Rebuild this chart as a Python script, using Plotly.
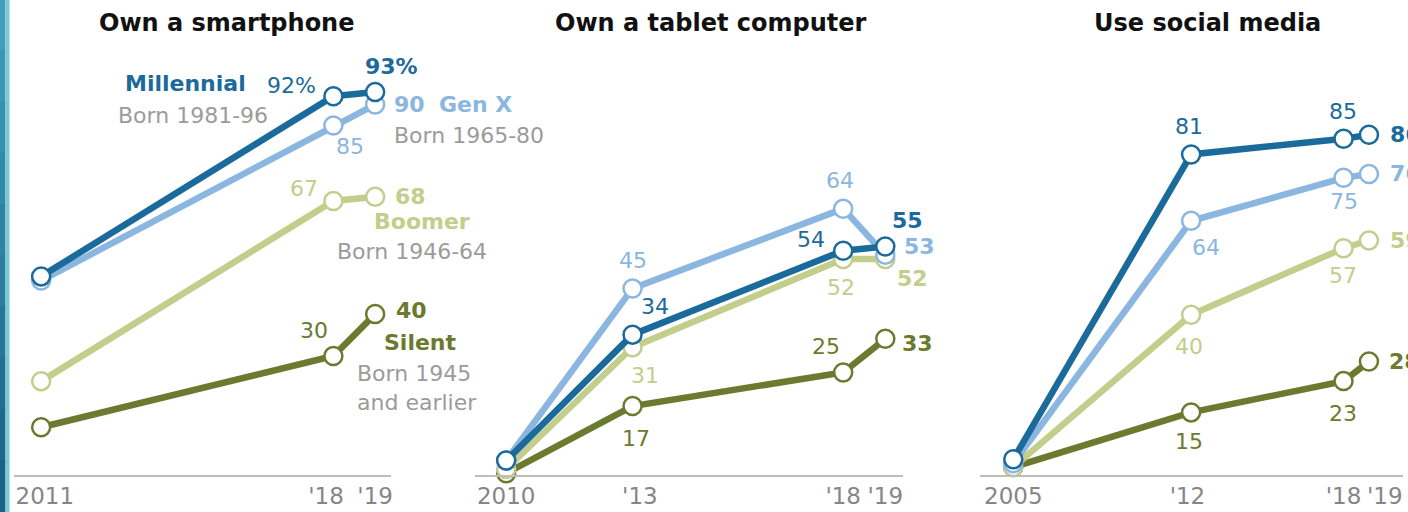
import plotly.graph_objects as go

# ---------------- data ----------------
titles = ["Own a smartphone", "Own a tablet computer", "Use social media"]
generations = ["Millennial", "Gen X", "Boomer", "Silent"]
born = ["Born 1981-96", "Born 1965-80", "Born 1946-64", "Born 1945<br>and earlier"]

years_smart = [2011, 2018, 2019]
smart_mill = [49, 92, 93]
smart_genx = [48, 85, 90]
smart_boom = [24, 67, 68]
smart_sil = [13, 30, 40]

years_tab = [2010, 2013, 2018, 2019]
tab_mill = [4, 34, 54, 55]
tab_genx = [4, 45, 64, 53]
tab_boom = [2, 31, 52, 52]
tab_sil = [1, 17, 25, 33]

years_soc = [2005, 2012, 2018, 2019]
soc_mill = [3, 81, 85, 86]
soc_genx = [2, 64, 75, 76]
soc_boom = [1, 40, 57, 59]
soc_sil = [1, 15, 23, 28]

NB = "\u00a0"
ticks_smart = [NB + "2011", "'18" + NB * 2, "'19"]
ticks_tab = ["2010", NB * 2 + "'13", "'18", "'19"]
ticks_soc = ["2005", "'12" + NB, "'18", ""]
extra_tick_soc = "'19"

# ---------------- styles ----------------
W, H = 1408, 512
MB = 37
colors = ["#1b6a9c", "#8ab6e0", "#c3cd8c", "#6b7a2f"]
GRAY = "#9b9b9b"
TICK = "#868686"
FONT = "DejaVu Sans"
LS = 22

panels = [
    dict(years=years_smart, series=[smart_mill, smart_genx, smart_boom, smart_sil], ticks=ticks_smart,
         xdom=[14 / W, 391 / W], xr=[2010.35, 2019.38], yr=[1.6, 114.96]),
    dict(years=years_tab, series=[tab_mill, tab_genx, tab_boom, tab_sil], ticks=ticks_tab,
         xdom=[475 / W, 903 / W], xr=[2009.26, 2019.42], yr=[0.57, 113.7]),
    dict(years=years_soc, series=[soc_mill, soc_genx, soc_boom, soc_sil], ticks=ticks_soc,
         xdom=[980 / W, 1403 / W], xr=[2003.69, 2020.34], yr=[-1.02, 120.5]),
]

fig = go.Figure()
layout = dict(
    width=W, height=H, margin=dict(l=0, r=0, t=0, b=MB, autoexpand=False),
    paper_bgcolor="white", plot_bgcolor="white", showlegend=False,
    font=dict(family=FONT, size=LS, color=GRAY),
)

for p_i, p in enumerate(panels):
    suffix = "" if p_i == 0 else str(p_i + 1)
    xa, ya = "x" + suffix, "y" + suffix
    # draw silent first, millennial last
    for s_i in [3, 2, 1, 0]:
        fig.add_trace(go.Scatter(
            x=p["years"], y=p["series"][s_i], xaxis=xa, yaxis=ya, mode="lines+markers",
            line=dict(color=colors[s_i], width=6.5),
            marker=dict(size=18, color="white", line=dict(color=colors[s_i], width=2.5)),
            cliponaxis=False, hoverinfo="skip",
        ))
    layout["xaxis" + suffix] = dict(
        domain=p["xdom"], range=p["xr"], anchor=ya, showgrid=False, zeroline=False,
        showline=True, linecolor="#bdbdbd", linewidth=1.5, ticks="",
        tickvals=p["years"], ticktext=p["ticks"], tickangle=0, automargin=False,
        tickfont=dict(family=FONT, size=23, color=TICK), fixedrange=True,
    )
    layout["yaxis" + suffix] = dict(
        domain=[0, 1], range=p["yr"], anchor=xa, visible=False, fixedrange=True, automargin=False,
    )

fig.update_layout(**layout)

# ---------------- value labels ----------------
# (panel, series, point index, xanchor, xshift, yshift, suffix)
label_specs = [
    (0, 0, 1, "right", -15, 11, "%"), (0, 0, 2, "center", 16, 26, "%"),
    (0, 1, 1, "center", 17, -21, ""), (0, 1, 2, "left", 17, 0, ""),
    (0, 2, 1, "right", -13, 12, ""), (0, 2, 2, "left", 18, 0, ""),
    (0, 3, 1, "right", -3, 26, ""), (0, 3, 2, "left", 19, 4, ""),

    (1, 0, 1, "center", 22, 28, ""), (1, 0, 2, "right", -16, 11, ""), (1, 0, 3, "center", 22, 26, ""),
    (1, 1, 1, "center", 0, 28, ""), (1, 1, 2, "center", -3, 28, ""), (1, 1, 3, "left", 17, 8, ""),
    (1, 2, 1, "center", 12, -28, ""), (1, 2, 2, "center", -2, -28, ""), (1, 2, 3, "left", 10, -19, ""),
    (1, 3, 1, "center", 3, -32, ""), (1, 3, 2, "center", -17, 26, ""), (1, 3, 3, "left", 15, -5, ""),

    (2, 0, 1, "center", -2, 28, ""), (2, 0, 2, "center", -1, 27, ""), (2, 0, 3, "left", 19, 0, ""),
    (2, 1, 1, "center", 15, -27, ""), (2, 1, 2, "center", 0, -24, ""), (2, 1, 3, "left", 19, 0, ""),
    (2, 2, 1, "center", -2, -32, ""), (2, 2, 2, "center", -1, -27, ""), (2, 2, 3, "left", 19, 0, ""),
    (2, 3, 1, "center", -2, -29, ""), (2, 3, 2, "center", -1, -32, ""), (2, 3, 3, "left", 18, 0, ""),
]

annotations = []
for (pi, si, idx, xanc, xs, ys, suf) in label_specs:
    p = panels[pi]
    suffix = "" if pi == 0 else str(pi + 1)
    val = p["series"][si][idx]
    last = idx == len(p["years"]) - 1
    txt = f"{val}{suf}"
    if last:
        txt = f"<b>{txt}</b>"
    annotations.append(dict(
        x=p["years"][idx], y=val, xref="x" + suffix, yref="y" + suffix,
        text=txt, showarrow=False, xanchor=xanc, yanchor="middle",
        xshift=xs, yshift=ys, font=dict(family=FONT, size=LS, color=colors[si]),
    ))

# '19 tick label of the social-media panel, nudged right as in the original
annotations.append(dict(
    x=years_soc[-1], y=0, xref="x3", yref="paper", text=extra_tick_soc, showarrow=False,
    xanchor="center", yanchor="middle", xshift=16, yshift=-21,
    font=dict(family=FONT, size=23, color=TICK),
))

# ---------------- generation legend labels (panel 1, anchored to 2019 point) ----------------
gen_specs = [
    # (series, name xanchor, xshift, yshift, born xanchor, xshift, yshift)
    (0, "right", -127, 9, "right", -105, -23),
    (1, "left", 62, 0, "left", 17, -31),
    (2, "left", -3, -25, "left", -40, -55),
    (3, "left", 7, -28, "left", -20, -74),
]
p = panels[0]
for (si, na, nx, ny, ba, bx, by) in gen_specs:
    yv = p["series"][si][-1]
    xv = p["years"][-1]
    annotations.append(dict(
        x=xv, y=yv, xref="x", yref="y", text=f"<b>{generations[si]}</b>", showarrow=False,
        xanchor=na, yanchor="middle", xshift=nx, yshift=ny,
        font=dict(family=FONT, size=LS, color=colors[si]),
    ))
    annotations.append(dict(
        x=xv, y=yv, xref="x", yref="y", text=born[si], showarrow=False, align="left",
        xanchor=ba, yanchor="middle", xshift=bx, yshift=by,
        font=dict(family=FONT, size=LS, color=GRAY),
    ))

# ---------------- titles ----------------
title_x = [226, 710, 1207]
for t, tx in zip(titles, title_x):
    annotations.append(dict(
        x=tx / W, y=(H - MB - 23) / (H - MB), xref="paper", yref="paper", text=f"<b>{t}</b>",
        showarrow=False, xanchor="center", yanchor="middle",
        font=dict(family=FONT, size=24, color="#111111"),
    ))

fig.update_layout(annotations=annotations)

# ---------------- left teal strip ----------------
shapes = []
bands = 10
c_top = (63, 160, 183)
c_bot = (26, 99, 131)
y_lo = -MB / (H - MB)
for b in range(bands):
    f = b / (bands - 1)
    c = tuple(int(c_top[k] + (c_bot[k] - c_top[k]) * f) for k in range(3))
    y1 = 1 - (1 - y_lo) * b / bands
    y0 = 1 - (1 - y_lo) * (b + 1) / bands
    shapes.append(dict(type="rect", xref="paper", yref="paper", x0=0, x1=5.5 / W, y0=y0 - 0.002, y1=y1 + 0.002,
                       fillcolor="rgb(%d,%d,%d)" % c, line=dict(width=0), layer="above"))
shapes.append(dict(type="rect", xref="paper", yref="paper", x0=5.5 / W, x1=9.5 / W, y0=y_lo, y1=1,
                   fillcolor="#7cc8d5", line=dict(width=0), layer="above"))
fig.update_layout(shapes=shapes)

fig.write_html(
    "out.html",
    config={"displayModeBar": False},
    post_script="document.body.style.margin='0';document.body.style.overflow='hidden';",
)
